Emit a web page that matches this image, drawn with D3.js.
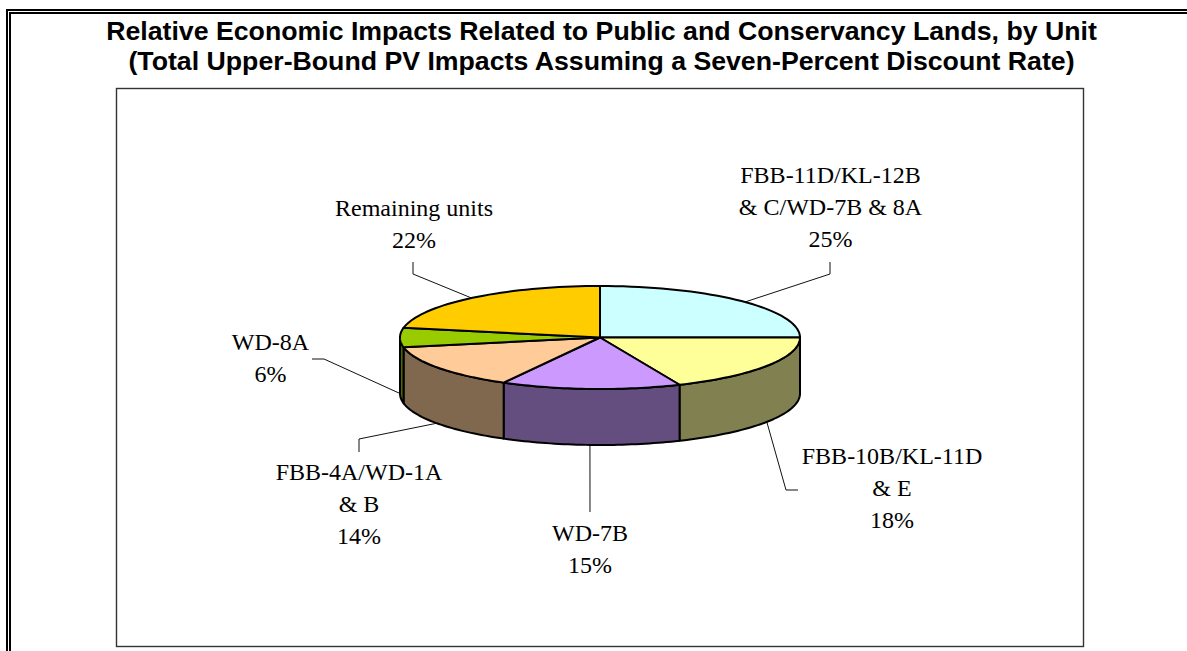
<!DOCTYPE html>
<html><head><meta charset="utf-8">
<script src="https://cdn.jsdelivr.net/npm/d3@7"></script>
<style>html,body{margin:0;padding:0;background:#fff;overflow:hidden}svg{display:block}</style>
</head><body><div id="c"></div>
<script>
const categories = [["FBB-11D/KL-12B","& C/WD-7B & 8A"],["FBB-10B/KL-11D","& E"],["WD-7B"],["FBB-4A/WD-1A","& B"],["WD-8A"],["Remaining units"]];
const shares = [25,18.49,14.51,14,6,22];
const topColors = ["#CCFFFF","#FFFF99","#CC99FF","#FFCC99","#99CC00","#FFCC00"];
const sideColors = ["#668080","#808050","#644E80","#80684E","#4D6600","#806600"];
const titleLines = ["Relative Economic Impacts Related to Public and Conservancy Lands, by Unit","(Total Upper-Bound PV Impacts Assuming a Seven-Percent Discount Rate)"];
// label layout: text centre x, first baseline y; leader anchor (percent round the pie) and bend points
const labelX = [830.5,892,590,359,270.5,414];
const labelY = [183,464,541,480,350,216];
const anchorPct = [12.9,34.3,50.8,65.2,75,88.9];
const leaderEnd = [[[830,274],[830,262]],[[786,490],[798,490]],[[590,512]],[[359,439],[359,452]],[[324,359],[312,359]],[[413,274],[413,262]]];

const W=1187,H=651;
const svg=d3.select("#c").append("svg").attr("width",W).attr("height",H);
// page frame
[[7,10,2],[10,13,2]].forEach(([x,y,w])=>{
  svg.append("path").attr("d",`M${x},${H}V${y}H${W}`).attr("fill","none").attr("stroke","#000").attr("stroke-width",w);
});
svg.append("g").selectAll("text").data(titleLines).join("text")
  .attr("x",601.5).attr("y",(d,i)=>40+i*29.5).attr("text-anchor","middle")
  .attr("font-family","'Liberation Sans',Arial,sans-serif").attr("font-weight","bold").attr("font-size",26.7)
  .attr("fill","#000").text(d=>d);
svg.append("rect").attr("x",116.5).attr("y",88.5).attr("width",967).attr("height",558)
  .attr("fill","#fff").attr("stroke","#333").attr("stroke-width",1.4);

// pie geometry: unit circle projected to an ellipse via linear scales
const sx=d3.scaleLinear().domain([-1,1]).range([400,800]);
const sy=d3.scaleLinear().domain([-1,1]).range([286,389]);
const depth=56;
const px=a=>sx(Math.sin(a)), py=a=>sy(-Math.cos(a));
const arcs=d3.pie().sort(null).startAngle(0).endAngle(2*Math.PI)(shares);
const rimPts=(a0,a1,dy=0)=>d3.range(0,41).map(i=>{const a=a0+(a1-a0)*i/40;return [px(a),py(a)+dy];});
const line=d3.line();

// leaders behind the pie
const g=svg.append("g");
arcs.forEach((d,i)=>{
  const a=anchorPct[i]/100*2*Math.PI;
  const front=Math.cos(a)<1e-6;
  const start=[px(a),py(a)+(front?depth:0)];
  g.append("path").attr("d",line([start,...leaderEnd[i]])).attr("fill","none").attr("stroke","#111").attr("stroke-width",1);
});
// side walls: only the front half (90deg..270deg) is visible
arcs.forEach((d,i)=>{
  const a0=Math.max(d.startAngle,Math.PI/2),a1=Math.min(d.endAngle,1.5*Math.PI);
  if(a1<=a0)return;
  const pts=[...rimPts(a0,a1),...rimPts(a1,a0,depth)];
  g.append("path").attr("d",line(pts)+"Z").attr("fill",sideColors[i]).attr("stroke","#000").attr("stroke-width",2).attr("stroke-linejoin","round");
});
// top face
arcs.forEach((d,i)=>{
  const pts=[[sx(0),sy(0)],...rimPts(d.startAngle,d.endAngle)];
  g.append("path").attr("d",line(pts)+"Z").attr("fill",topColors[i]).attr("stroke","#000").attr("stroke-width",2).attr("stroke-linejoin","round");
});
// labels
arcs.forEach((d,i)=>{
  const lines=[...categories[i],Math.round(shares[i])+"%"];
  svg.append("g").selectAll("text").data(lines).join("text")
    .attr("x",labelX[i]).attr("y",(t,k)=>labelY[i]+k*32).attr("text-anchor","middle")
    .attr("font-family","'Liberation Serif','Times New Roman',serif").attr("font-size",24).attr("fill","#000").text(t=>t);
});
</script></body></html>
